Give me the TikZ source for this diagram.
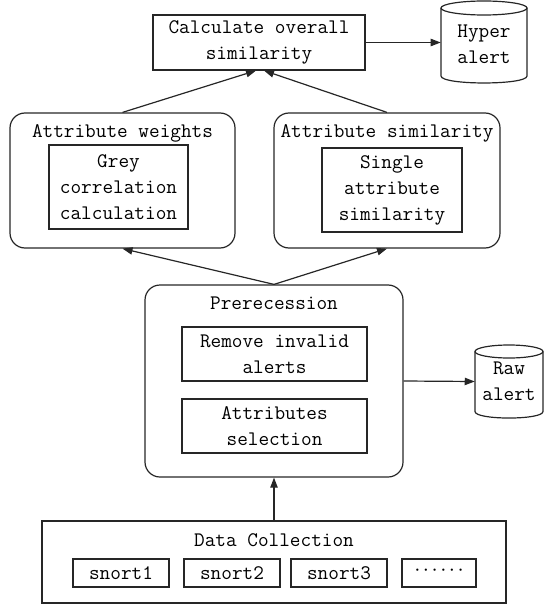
\documentclass[tikz,border=0pt]{standalone}
\usepackage{fontspec}
\usetikzlibrary{arrows.meta,calc}
\def\upx{0.75pt}
\begin{document}
\begin{tikzpicture}[x=0.75pt,y=-0.75pt,
  every node/.style={font=\ttfamily\fontsize{15.5}{19.5}\selectfont, inner sep=0pt, align=center},
  ln/.style={line width=0.9pt, draw=black!85},
  boxn/.style={ln, draw},
  roundn/.style={ln, draw, rounded corners=11.25pt},
  arr/.style={ln, -{Triangle[length=7.5pt,width=5.5pt]}}
]
\useasboundingbox (0,0) rectangle (544,606);

% top
\node[boxn, minimum width=212*\upx, minimum height=55*\upx] (calc) at (259,42.5) {Calculate overall\\similarity};
\node[minimum width=86*\upx, minimum height=82*\upx] (hyper) at (484,44) {Hyper\\alert};
\draw[ln] (441,8) -- (441,76) .. controls (441,85.3) and (527,85.3) .. (527,76) -- (527,8);
\draw[ln] (484,8) ellipse[x radius=43*\upx, y radius=7*\upx];

% attribute boxes
\node[roundn, minimum width=225*\upx, minimum height=135*\upx] (aw) at (122.5,180.5) {};
\node (awt) at (122.5,133) {Attribute weights};
\node[boxn, minimum width=139*\upx, minimum height=84*\upx] (grey) at (118.5,187) {Grey\\correlation\\calculation};

\node[roundn, minimum width=226*\upx, minimum height=135*\upx] (as) at (387,180.5) {};
\node (ast) at (387,133) {Attribute similarity};
\node[boxn, minimum width=140*\upx, minimum height=84*\upx] (single) at (392,190) {Single\\attribute\\similarity};

% preprocessing
\node[roundn, minimum width=258*\upx, minimum height=192*\upx] (prer) at (274,381) {};
\node (prt) at (274,303) {Prerecession};
\node[boxn, minimum width=185*\upx, minimum height=54*\upx] (remove) at (274.5,354) {Remove invalid\\alerts};
\node[boxn, minimum width=185*\upx, minimum height=54*\upx] (sel) at (274.5,426) {Attributes\\selection};

\node[minimum width=68*\upx, minimum height=73*\upx] (raw) at (509,381.5) {Raw\\alert};
\draw[ln] (475,351.5) -- (475,411.5) .. controls (475,420.2) and (543,420.2) .. (543,411.5) -- (543,351.5);
\draw[ln] (509,351.5) ellipse[x radius=34*\upx, y radius=6.5*\upx];

% data collection
\node[boxn, minimum width=464*\upx, minimum height=82*\upx] (data) at (274,562) {};
\node (dct) at (274,540) {Data Collection};
\node[boxn, minimum width=96*\upx, minimum height=28*\upx] (s1) at (121,573) {snort1};
\node[boxn, minimum width=96*\upx, minimum height=28*\upx] (s2) at (232,573) {snort2};
\node[boxn, minimum width=96*\upx, minimum height=28*\upx] (s3) at (339,573) {snort3};
\node[boxn, minimum width=74*\upx, minimum height=28*\upx] (s4) at (439,573) {·\kern-1.5pt·\kern-1.5pt·\kern-1.5pt·\kern-1.5pt·\kern-1.5pt·};

% connectors
\draw[arr] (calc.east) -- (hyper.west |- calc.east);
\draw[arr] (aw.north) -- ($(calc.south)+(-3,0)$);
\draw[arr] (as.north) -- ($(calc.south)+(5,0)$);
\draw[arr] (prer.north) -- (aw.south);
\draw[arr] (prer.north) -- (as.south);
\draw[arr] (prer.east) -- (raw.west);
\draw[arr] (data.north) -- (prer.south);
\end{tikzpicture}
\end{document}
